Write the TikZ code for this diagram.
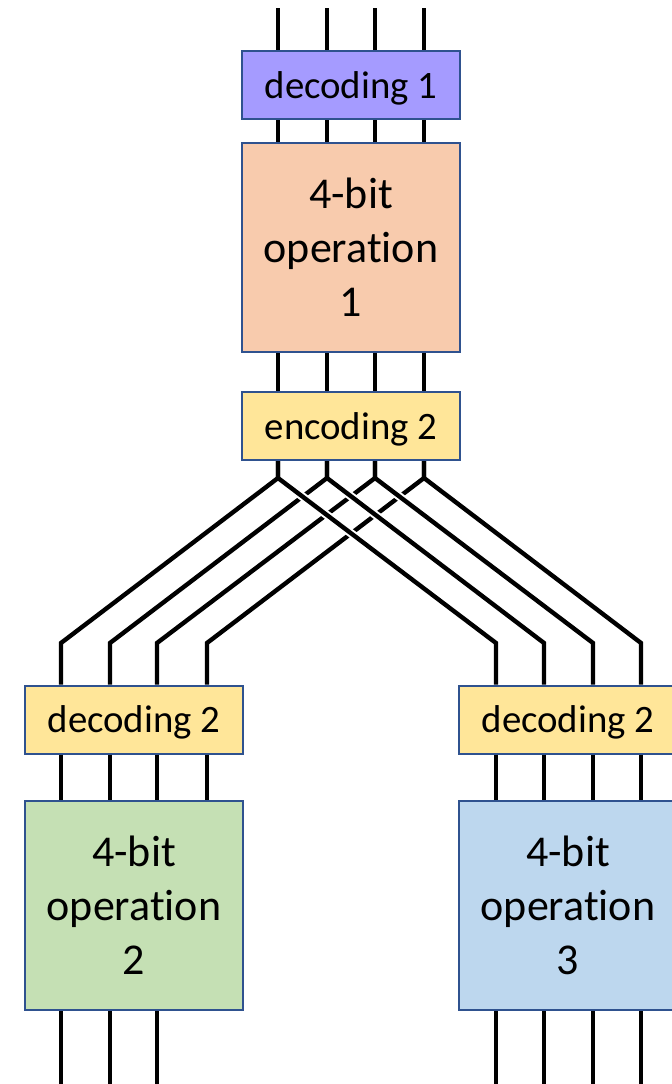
\documentclass[tikz,border=0pt]{standalone}
\usepackage{fontspec}
\setmainfont{Carlito}[Ligatures=NoCommon]

\definecolor{boxline}{HTML}{2F528F}
\definecolor{decpurple}{HTML}{A59BFF}
\definecolor{oporange}{HTML}{F8CBAD}
\definecolor{codeyellow}{HTML}{FFE699}
\definecolor{opgreen}{HTML}{C5E0B4}
\definecolor{opblue}{HTML}{BDD7EE}

\begin{document}
\begin{tikzpicture}[x=0.5pt,y=-0.5pt,
  wire/.style={line width=2.2pt},
  halo/.style={white,line width=4.2pt,shorten <=6pt},
  box/.style={draw=boxline,line width=1pt,minimum width=109pt,inner sep=0pt},
  codebox/.style={box,minimum height=34pt,text height=14pt,text depth=1pt,font=\fontsize{19.4}{23}\selectfont},
  opbox/.style={box,minimum height=104.5pt,align=center,font=\fontsize{22}{27}\selectfont}]
\useasboundingbox (0,0) rectangle (671,1084);

% boxes
\node[codebox,fill=decpurple] (dec1) at (351,85) {decoding 1};
\node[opbox,fill=oporange] (op1) at (351,247.5) {4-bit\\operation\\1};
\node[codebox,fill=codeyellow] (enc2) at (351,426) {encoding 2};
\node[codebox,fill=codeyellow] (decL) at (134,719.5) {decoding 2};
\node[codebox,fill=codeyellow] (decR) at (568,719.5) {decoding 2};
\node[opbox,fill=opgreen] (opL) at (134,905.5) {4-bit\\operation\\2};
\node[opbox,fill=opblue] (opR) at (568,905.5) {4-bit\\operation\\3};

% wire points
\coordinate (in1) at (278,8);
\coordinate (in2) at (327,8);
\coordinate (in3) at (375,8);
\coordinate (in4) at (424,8);
\coordinate (k1) at (278,478);
\coordinate (k2) at (327,478);
\coordinate (k3) at (375,478);
\coordinate (k4) at (424,478);
\coordinate (l1) at (61,643);
\coordinate (l2) at (110,643);
\coordinate (l3) at (157,643);
\coordinate (l4) at (207,643);
\coordinate (r1) at (496,643);
\coordinate (r2) at (544,643);
\coordinate (r3) at (593,643);
\coordinate (r4) at (641,643);

% wires through the top column
\foreach \i in {1,...,4} {
  \draw[wire] (in\i) -- (in\i |- dec1.north);
  \draw[wire] (in\i |- dec1.south) -- (in\i |- op1.north);
  \draw[wire] (in\i |- op1.south) -- (in\i |- enc2.north);
}

% fan out to the left
\foreach \i in {1,...,4}
  \draw[wire] (k\i |- enc2.south) -- (k\i) -- (l\i) -- (l\i |- decL.north);

% fan out to the right, drawn over the left ones
\foreach \i in {1,...,4} {
  \draw[halo] (k\i) -- (r\i);
  \draw[wire] (k\i |- enc2.south) -- (k\i) -- (r\i) -- (r\i |- decR.north);
}

% lower columns
\foreach \i in {1,...,4} {
  \draw[wire] (l\i |- decL.south) -- (l\i |- opL.north);
  \draw[wire] (r\i |- decR.south) -- (r\i |- opR.north);
  \draw[wire] (r\i |- opR.south) -- (r\i |- 0,1084);
}
\foreach \i in {1,...,3}
  \draw[wire] (l\i |- opL.south) -- (l\i |- 0,1084);
\end{tikzpicture}
\end{document}
